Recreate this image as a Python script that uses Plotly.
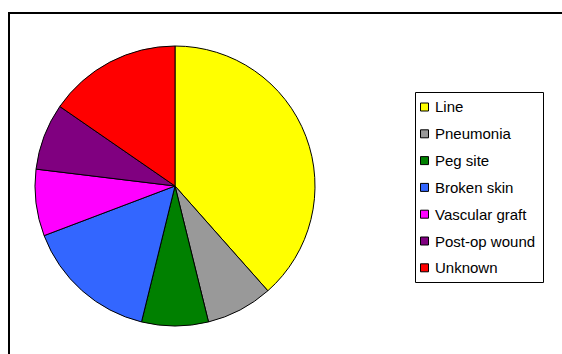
import plotly.graph_objects as go

# Infection sources
labels = ["Line", "Pneumonia", "Peg site", "Broken skin",
          "Vascular graft", "Post-op wound", "Unknown"]
counts = [5, 1, 1, 2, 1, 1, 2]
colors = ["#FFFF00", "#999999", "#008000", "#3366FF",
          "#FF00FF", "#800080", "#FF0000"]

W, H = 562, 354

def px(x):
    return x / W

def py(y):
    return 1 - y / H

cx, cy, r = 175, 186, 140

fig = go.Figure(go.Pie(
    labels=labels,
    values=counts,
    sort=False,
    direction="clockwise",
    rotation=0,
    textinfo="none",
    hoverinfo="label+value+percent",
    marker=dict(colors=colors, line=dict(color="#000000", width=1)),
    domain=dict(x=[px(cx - r), px(cx + r)], y=[py(cy + r), py(cy - r)]),
    showlegend=False,
))

shapes = [
    # outer chart frame
    dict(type="rect", xref="paper", yref="paper",
         x0=px(9), x1=px(575), y0=py(13), y1=py(370),
         line=dict(color="#000000", width=2), fillcolor="rgba(0,0,0,0)"),
    # legend box
    dict(type="rect", xref="paper", yref="paper",
         x0=px(415.5), x1=px(543.5), y0=py(92.5), y1=py(282.5),
         line=dict(color="#000000", width=1), fillcolor="rgba(0,0,0,0)"),
]
annotations = []

# legend entries built from the category list
top, step = 107, 26.8
for i, (lab, col) in enumerate(zip(labels, colors)):
    yc = top + step * i
    shapes.append(dict(type="rect", xref="paper", yref="paper",
                       x0=px(420.5), x1=px(428.5),
                       y0=py(yc - 4), y1=py(yc + 4),
                       line=dict(color="#000000", width=1), fillcolor=col))
    annotations.append(dict(x=px(433), y=py(yc), xref="paper", yref="paper",
                            text=lab, showarrow=False, xanchor="left",
                            yanchor="middle",
                            font=dict(family="Liberation Sans, Arial", size=15,
                                      color="#000000")))

fig.update_layout(
    width=W, height=H,
    margin=dict(l=0, r=0, t=0, b=0),
    paper_bgcolor="#FFFFFF",
    plot_bgcolor="#FFFFFF",
    shapes=shapes,
    annotations=annotations,
)

fig.write_html("out.html")
